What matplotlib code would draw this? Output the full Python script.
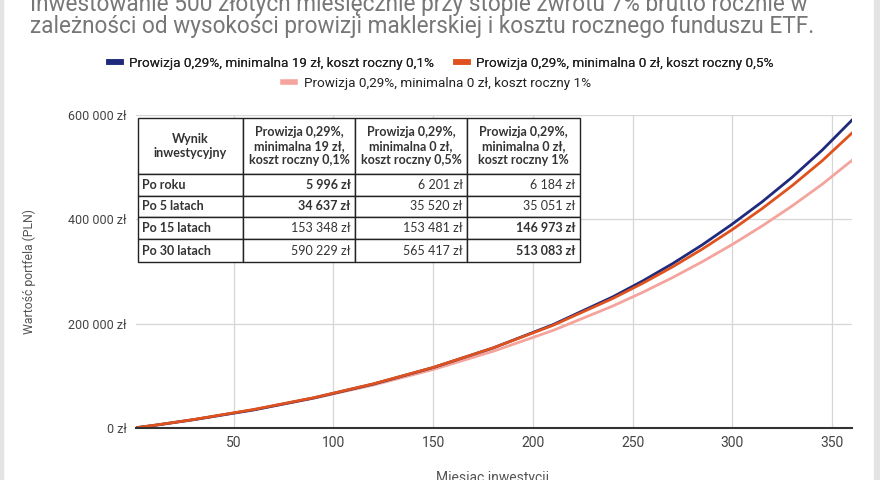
import matplotlib.pyplot as plt
from matplotlib.lines import Line2D
from matplotlib.patches import Rectangle

# (miesiac -> wartosc portfela w zl)
months = [1, 12, 30, 60, 90, 120, 150, 180, 210, 240, 255, 270, 285, 300, 315, 330, 345, 360]
val_019 = [500, 5996, 16000, 34637, 57500, 84200, 115900, 153348, 198000, 251300, 281800, 315000,
           351300, 391000, 433800, 480700, 532500, 590229]
val_005 = [500, 6201, 16270, 35520, 58000, 84700, 116100, 153481, 196700, 248200, 277300, 308800,
           343100, 380400, 420800, 464600, 512100, 565417]
val_010 = [500, 6184, 16170, 35051, 56900, 82400, 112100, 146973, 186900, 233700, 260000, 288300,
           318900, 351900, 387400, 425700, 467100, 513083]

labels = ['Prowizja 0,29%, minimalna 19 zł, koszt roczny 0,1%',
          'Prowizja 0,29%, minimalna 0 zł, koszt roczny 0,5%',
          'Prowizja 0,29%, minimalna 0 zł, koszt roczny 1%']
colors = ['#1f2a7c', '#e0521d', '#f4a49c']

yticks = [0, 200000, 400000, 600000]
ytick_labels = ['0 zł', '200 000 zł', '400 000 zł', '600 000 zł']
xticks = [50, 100, 150, 200, 250, 300, 350]

table_header = ['Wynik\ninwestycyjny',
                'Prowizja 0,29%,\nminimalna 19 zł,\nkoszt roczny 0,1%',
                'Prowizja 0,29%,\nminimalna 0 zł,\nkoszt roczny 0,5%',
                'Prowizja 0,29%,\nminimalna 0 zł,\nkoszt roczny 1%']
table_rows = ['Po roku', 'Po 5 latach', 'Po 15 latach', 'Po 30 latach']
table_vals = [['5 996 zł', '6 201 zł', '6 184 zł'],
              ['34 637 zł', '35 520 zł', '35 051 zł'],
              ['153 348 zł', '153 481 zł', '146 973 zł'],
              ['590 229 zł', '565 417 zł', '513 083 zł']]
bold_col = [1, 1, 3, 3]  # wyrozniona kolumna w kazdym wierszu

plt.rcParams['font.family'] = ['Roboto', 'DejaVu Sans']

fig = plt.figure(figsize=(8.8, 4.8), dpi=100)
W, H = 880, 480
ax = fig.add_axes([136 / W, 1 - 428 / H, 716 / W, 313 / H])

# szare paski przy krawedziach
fig.patches.append(Rectangle((0, 0), 3 / W, 1, transform=fig.transFigure, color='#e4e4e4', zorder=0))
fig.patches.append(Rectangle((874 / W, 0), 6 / W, 1, transform=fig.transFigure, color='#e4e4e4', zorder=0))

ax.plot(months, val_019, color=colors[0], lw=2, zorder=3)
ax.plot(months, val_005, color=colors[1], lw=2, zorder=3)
ax.plot(months, val_010, color=colors[2], lw=2, zorder=2)

ax.set_xlim(1, 360)
ax.set_ylim(0, 600000)
ax.set_xticks(xticks)
ax.set_xticklabels([str(t) for t in xticks])
ax.set_yticks(yticks)
ax.set_yticklabels(ytick_labels)
ax.tick_params(length=0, labelsize=9, colors='#444444', pad=7)
ax.tick_params(axis='x', labelsize=10, pad=6)
ax.grid(True, color='#d6d6d6', lw=0.9)
ax.set_axisbelow(True)
for s in ['left', 'right', 'top']:
    ax.spines[s].set_visible(False)
ax.spines['bottom'].set_color('#333333')
ax.spines['bottom'].set_linewidth(1.5)
ax.spines['bottom'].set_zorder(4)

ax.set_ylabel('Wartość portfela (PLN)', fontsize=8.8, color='#555555')
ax.yaxis.set_label_coords(-(136 - 36) / 716, 0.5)
fig.text(493 / W, -2 / H, 'Miesiąc inwestycji', ha='center', va='baseline', fontsize=10, color='#555555')

# tytul (ucieta gora)
fig.text(30 / W, 1 - 11 / H, 'Inwestowanie 500 złotych miesięcznie przy stopie zwrotu 7% brutto rocznie w',
         fontsize=16.3, color='#777777', va='baseline')
fig.text(30 / W, 1 - 33 / H, 'zależności od wysokości prowizji maklerskiej i kosztu rocznego funduszu ETF.',
         fontsize=16.3, color='#777777', va='baseline')

# legenda w dwoch wierszach
handles = [Line2D([], [], color=c, lw=4) for c in colors]
leg1 = fig.legend(handles[:2], labels[:2], ncol=2, loc='center', bbox_to_anchor=(441 / W, 1 - 63 / H),
                  frameon=False, fontsize=9.7, handlelength=0.9, columnspacing=1.6, handletextpad=0.6)
leg2 = fig.legend(handles[2:], labels[2:], loc='center', bbox_to_anchor=(437 / W, 1 - 83 / H),
                  frameon=False, fontsize=9.7, handlelength=0.9, handletextpad=0.6)
for leg in (leg1, leg2):
    for t in leg.get_texts():
        t.set_color('#222222')
fig.add_artist(leg1)

# tabela
cell_text = [table_header] + [[r] + v for r, v in zip(table_rows, table_vals)]
x0, x1 = 2 / 716, 444 / 716
y0, y1 = (428 - 262) / 313, (428 - 118) / 313
tbl = ax.table(cellText=cell_text, bbox=[x0, y0, x1 - x0, y1 - y0], zorder=5)
tbl.auto_set_font_size(False)
col_w = [105, 112, 112, 113]
row_h = [56, 22, 21, 22, 23]
for (r, c), cell in tbl.get_celld().items():
    cell.set_width(col_w[c])
    cell.set_height(row_h[r])
    cell.set_facecolor('white')
    cell.set_edgecolor('#222222')
    cell.set_linewidth(1.0)
    cell.PAD = 0.04
    txt = cell.get_text()
    txt.set_fontfamily(['Lato', 'DejaVu Sans'])
    txt.set_fontsize(9)
    txt.set_color('#333333')
    if r == 0:
        txt.set_ha('center')
        txt.set_weight('bold')
        txt.set_linespacing(1.2)
    elif c == 0:
        txt.set_ha('left')
        txt.set_weight('bold')
    else:
        txt.set_ha('right')
        if c == bold_col[r - 1]:
            txt.set_weight('bold')

fig.savefig('out.png', dpi=100, facecolor='white')
